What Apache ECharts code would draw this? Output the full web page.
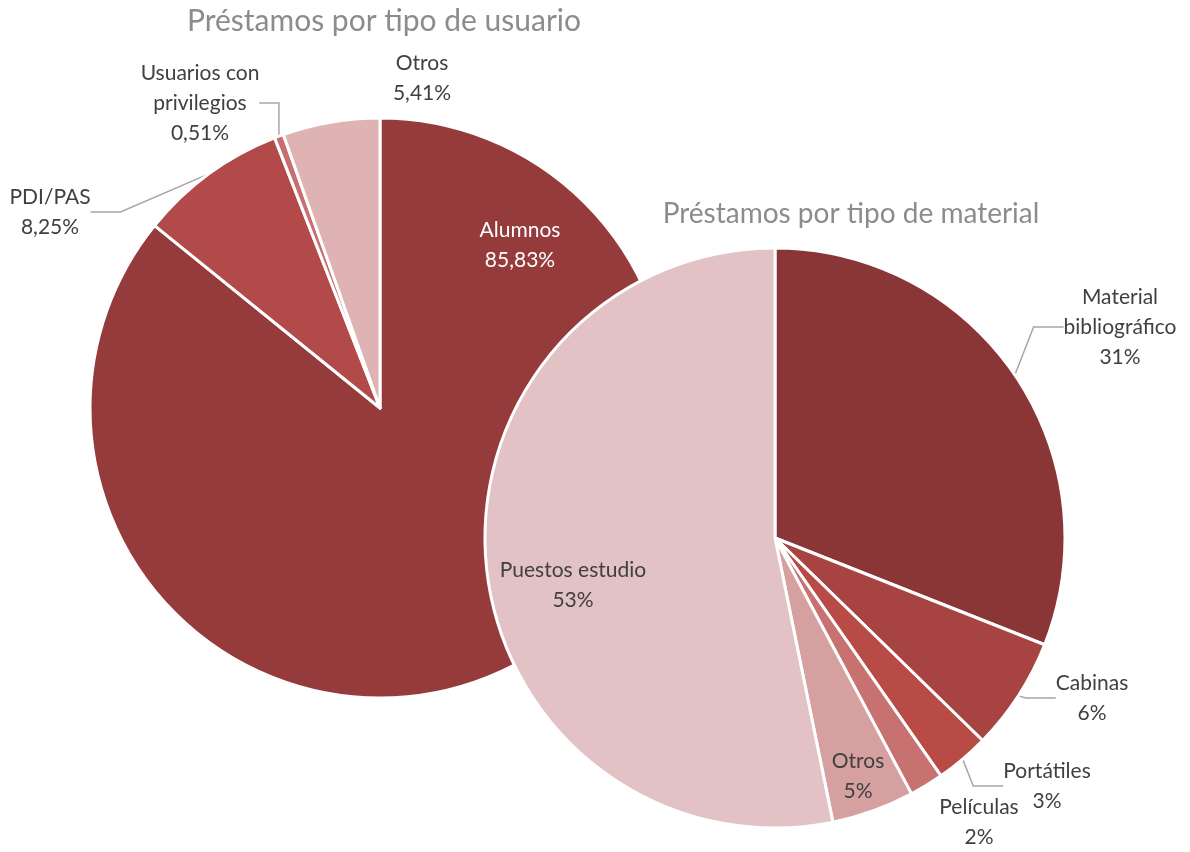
<!DOCTYPE html>
<html>
<head>
<meta charset="utf-8">
<script src="https://cdn.jsdelivr.net/npm/echarts@6/dist/echarts.min.js"></script>
<style>
html,body{margin:0;padding:0;background:#fff;}
#main{width:1190px;height:852px;}
</style>
</head>
<body>
<div id="main"></div>
<script>
// préstamos por tipo de usuario (%)
var userNames = ['Alumnos', 'PDI/PAS', 'Usuarios con privilegios', 'Otros'];
var userValues = [85.83, 8.25, 0.51, 5.41];
var userColors = ['#963b3b', '#b24a4a', '#c86e6e', '#dfb3b3'];

// préstamos por tipo de material (%)
var matNames = ['Material bibliográfico', 'Cabinas', 'Portátiles', 'Películas', 'Otros', 'Puestos estudio'];
var matValues = [31, 6.3, 3, 1.9, 4.6, 53.2];
var matColors = ['#8b3636', '#a74341', '#b94b47', '#c87171', '#d6a0a0', '#e2c2c4'];

var wrapNames = {'Usuarios con privilegios': 'Usuarios con\nprivilegios', 'Material bibliográfico': 'Material\nbibliográfico'};

// dónde van las etiquetas (centro del bloque de texto)
var userLabelPos = [[520, 245], [50, 212], [200, 103], [422, 78]];
var matLabelPos = [[1120, 327], [1092, 698], [1047, 786], [979, 822], [858, 776], [573, 585]];

function init(){
	var chart = echarts.init(document.getElementById('main'));
	var font = 'Lato, "Noto Sans", sans-serif';

	var userData = userNames.map(function(n, i){
		var item = {name: n, value: userValues[i], itemStyle: {color: userColors[i]}};
		if (i === 0) item.label = {color: '#ffffff'};
		if (i === 0 || i === 3) item.labelLine = {show: false};
		return item;
	});
	var matData = matNames.map(function(n, i){
		var item = {name: n, value: matValues[i], itemStyle: {color: matColors[i]}};
		if (i >= 3) item.labelLine = {show: false};
		return item;
	});

	var option = {
		animation: false,
		title: [
			{
				text: 'Préstamos por tipo de usuario',
				left: 379, top: 1, textAlign: 'center',
				textStyle: {fontFamily: font, fontSize: 30, fontWeight: 'normal', color: '#8c8c8c'}
			},
			{
				text: 'Préstamos por tipo de material',
				left: 846, top: 195, textAlign: 'center',
				textStyle: {fontFamily: font, fontSize: 28, fontWeight: 'normal', color: '#8c8c8c'}
			}
		],
		series: [
			{
				name: 'usuario',
				type: 'pie',
				center: [380, 408],
				radius: [0, 290],
				startAngle: 90,
				avoidLabelOverlap: false,
				itemStyle: {borderColor: '#ffffff', borderWidth: 3},
				label: {
					show: true,
					position: 'outside',
					fontFamily: font, fontSize: 21, lineHeight: 30,
					color: '#404040', align: 'center',
					formatter: function(p){
						return (wrapNames[p.name] || p.name) + '\n' + p.percent.toFixed(2).replace('.', ',') + '%';
					}
				},
				labelLine: {show: true, lineStyle: {color: '#a6a6a6', width: 1.5}},
				labelLayout: function(p){
					var pos = userLabelPos[p.dataIndex];
					return {x: pos[0], y: pos[1], align: 'center', verticalAlign: 'middle'};
				},
				emphasis: {disabled: true},
				data: userData
			},
			{
				name: 'material',
				type: 'pie',
				z: 3,
				center: [775, 538],
				radius: [0, 290],
				startAngle: 90,
				avoidLabelOverlap: false,
				itemStyle: {borderColor: '#ffffff', borderWidth: 3},
				label: {
					show: true,
					position: 'outside',
					fontFamily: font, fontSize: 21, lineHeight: 30,
					color: '#404040', align: 'center',
					formatter: function(p){
						return (wrapNames[p.name] || p.name) + '\n' + Math.round(p.percent) + '%';
					}
				},
				labelLine: {show: true, lineStyle: {color: '#a6a6a6', width: 1.5}},
				labelLayout: function(p){
					var pos = matLabelPos[p.dataIndex];
					return {x: pos[0], y: pos[1], align: 'center', verticalAlign: 'middle'};
				},
				emphasis: {disabled: true},
				data: matData
			}
		]
	};
	chart.setOption(option);
}
init();
</script>
</body>
</html>
